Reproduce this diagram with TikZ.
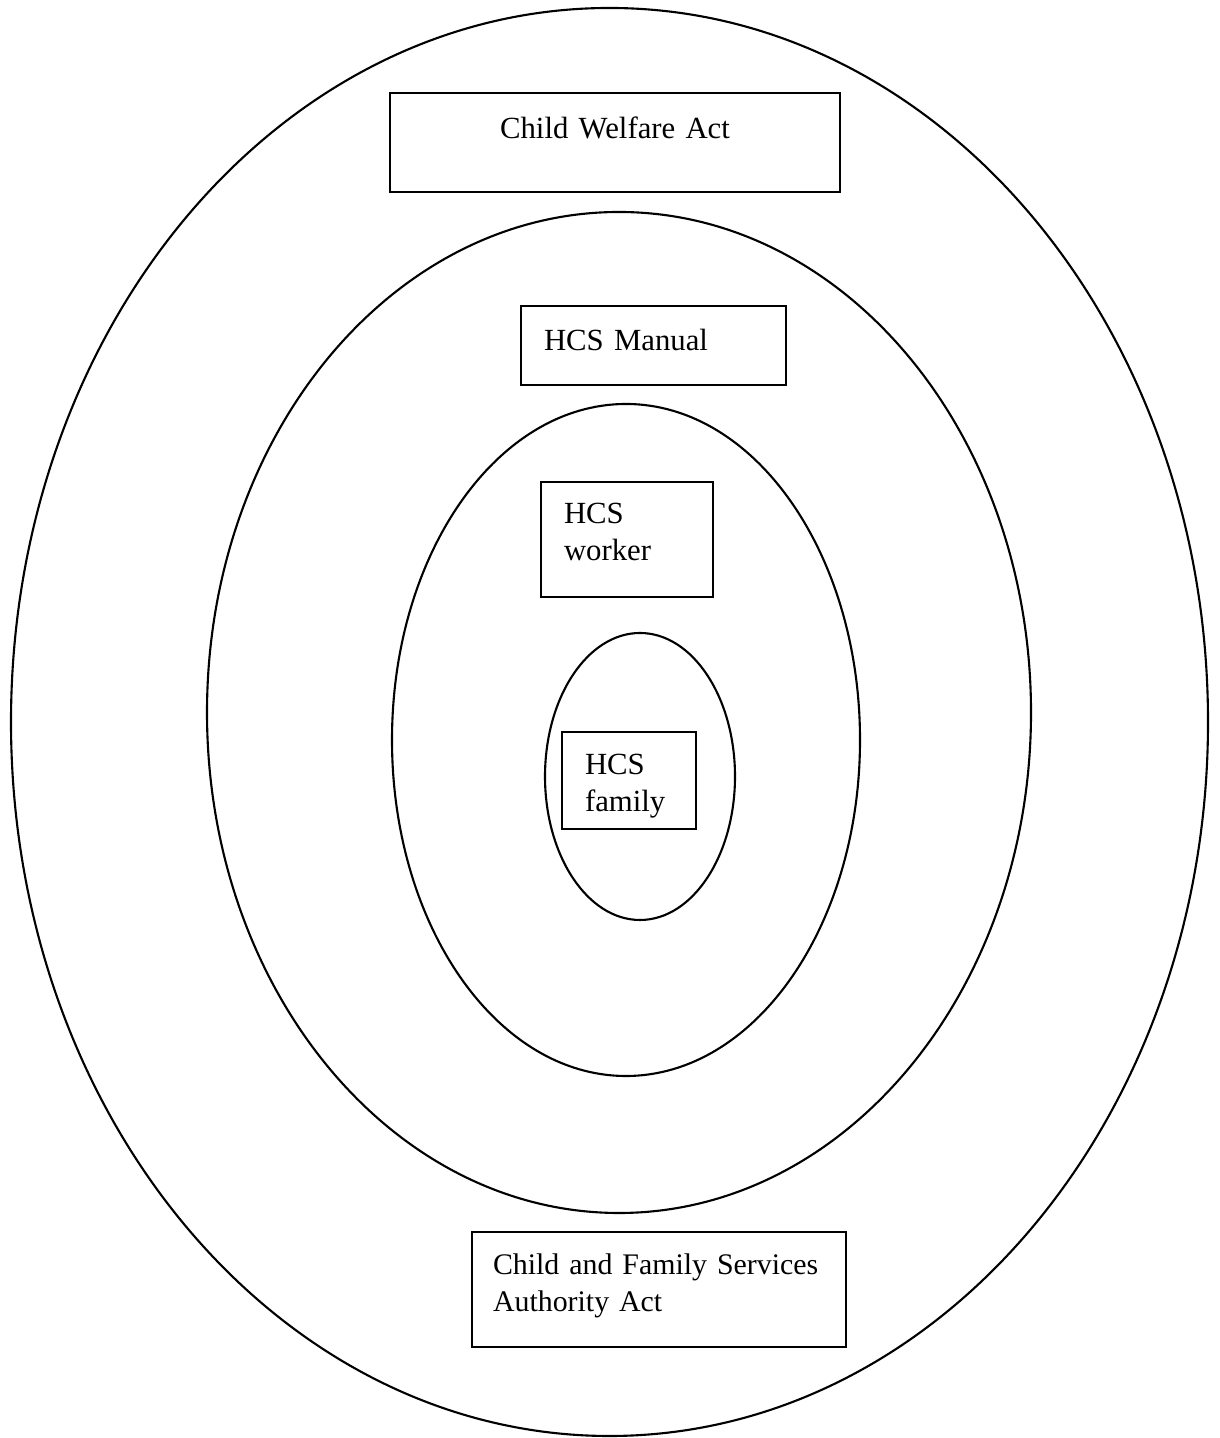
\documentclass[tikz,border=0pt]{standalone}
\usepackage{fontspec}
\setmainfont{Liberation Serif}
\tikzset{
  ring/.style={draw, line width=1.2pt},
  box/.style={draw, line width=1pt, inner ysep=0pt, inner xsep=0.46cm, align=left,
    font=\fontsize{17.5}{21}\selectfont}
}
\begin{document}
\begin{tikzpicture}

    % Page frame
    \useasboundingbox (0,0) rectangle (24.38,28.76);

    % Rings, from the outside in
    \draw[ring] (12.19,14.32) ellipse [x radius=11.97, y radius=14.28];
    \draw[ring] (12.38,14.51) ellipse [x radius=8.24, y radius=10.01];
    \draw[ring] (12.52,13.96) ellipse [x radius=4.68, y radius=6.72];
    \draw[ring] (12.80,13.23) ellipse [x radius=1.90, y radius=2.87];

    % Boxes
    \node[box, align=center, inner xsep=0pt, text width=9cm, text height=0.92cm, text depth=1.06cm] (welfare) at (12.30,25.91) {Child Welfare Act};
    \node[box, text width=4.38cm, text height=0.90cm, text depth=0.68cm] (manual) at (13.07,21.85) {HCS Manual};
    \node[box, text width=2.52cm, text height=0.84cm, text depth=1.46cm] (worker) at (12.54,17.97) {HCS\\worker};
    \node[box, text width=1.76cm, text height=0.86cm, text depth=1.08cm] (family) at (12.58,13.15) {HCS\\family};
    \node[box, inner xsep=0.42cm, text width=6.64cm, text height=0.86cm, text depth=1.44cm,
      font=\fontsize{17}{21}\selectfont] (authority) at (13.18,2.97) {\mbox{Child and Family Services}\\Authority Act};
\end{tikzpicture}
\end{document}
